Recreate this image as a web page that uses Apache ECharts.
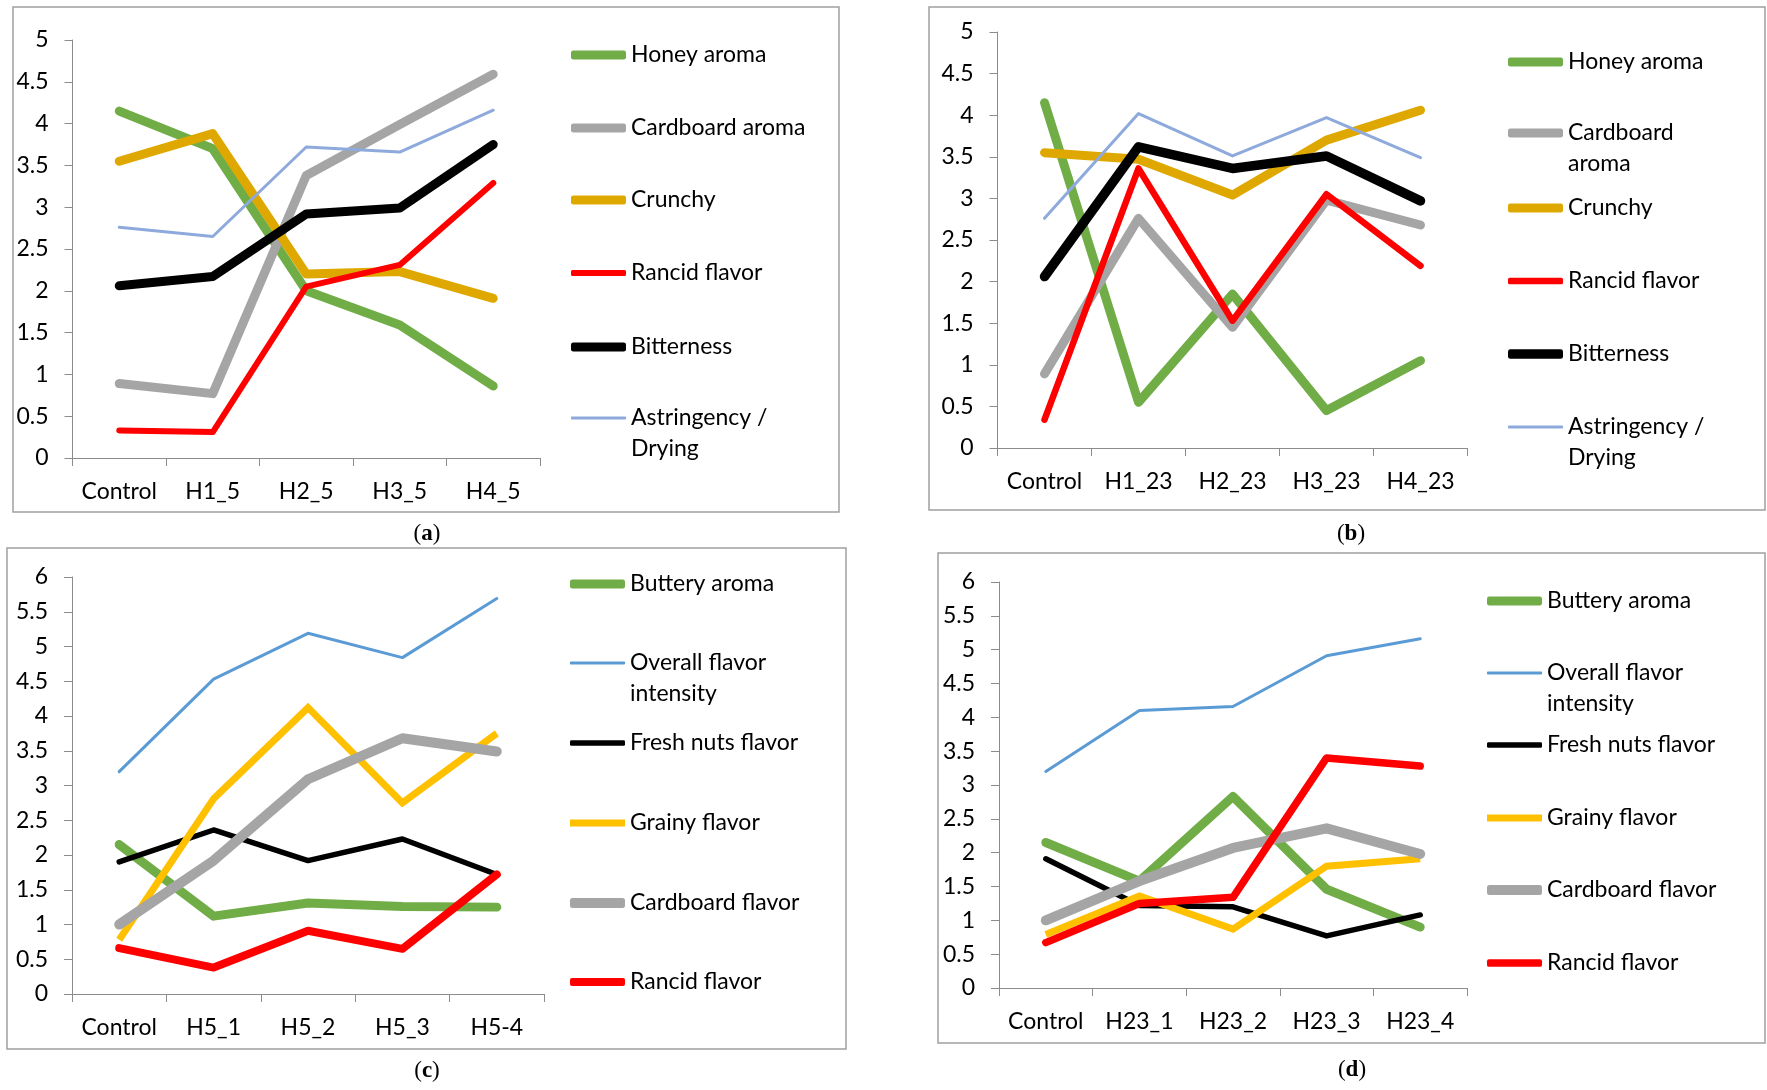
<!DOCTYPE html>
<html>
<head>
<meta charset="utf-8">
<script src="https://cdn.jsdelivr.net/npm/echarts@6/dist/echarts.min.js"></script>
<style>
html,body{margin:0;padding:0;background:#fff;}
#chart{width:1767px;height:1090px;}
</style>
</head>
<body>
<div id="chart"></div>
<script>
// ---------- categories ----------
const catsA = ['Control', 'H1_5', 'H2_5', 'H3_5', 'H4_5'];
const catsB = ['Control', 'H1_23', 'H2_23', 'H3_23', 'H4_23'];
const catsC = ['Control', 'H5_1', 'H5_2', 'H5_3', 'H5-4'];
const catsD = ['Control', 'H23_1', 'H23_2', 'H23_3', 'H23_4'];

// ---------- panel (a) ----------
const honeyA     = [4.15, 3.70, 2.00, 1.59, 0.86];
const cardboardA = [0.89, 0.77, 3.38, 3.99, 4.59];
const crunchyA   = [3.55, 3.88, 2.20, 2.23, 1.91];
const rancidA    = [0.33, 0.31, 2.05, 2.31, 3.29];
const bitterA    = [2.06, 2.17, 2.92, 2.99, 3.75];
const astrA      = [2.76, 2.65, 3.72, 3.66, 4.16];

// ---------- panel (b) ----------
const honeyB     = [4.15, 0.55, 1.85, 0.45, 1.05];
const cardboardB = [0.89, 2.76, 1.45, 2.98, 2.68];
const crunchyB   = [3.55, 3.47, 3.04, 3.70, 4.06];
const rancidB    = [0.34, 3.36, 1.53, 3.05, 2.19];
const bitterB    = [2.06, 3.62, 3.36, 3.51, 2.97];
const astrB      = [2.76, 4.02, 3.51, 3.97, 3.49];

// ---------- panel (c) ----------
const butteryC   = [2.15, 1.12, 1.31, 1.26, 1.25];
const overallC   = [3.20, 4.53, 5.19, 4.84, 5.69];
const freshC     = [1.90, 2.36, 1.92, 2.23, 1.72];
const grainyC    = [0.78, 2.81, 4.12, 2.75, 3.75];
const cardboardC = [1.00, 1.92, 3.09, 3.68, 3.49];
const rancidC    = [0.66, 0.38, 0.91, 0.65, 1.72];

// ---------- panel (d) ----------
const butteryD   = [2.15, 1.58, 2.83, 1.46, 0.90];
const overallD   = [3.20, 4.10, 4.16, 4.91, 5.16];
const freshD     = [1.91, 1.22, 1.20, 0.77, 1.08];
const grainyD    = [0.79, 1.36, 0.87, 1.80, 1.91];
const cardboardD = [1.00, 1.58, 2.07, 2.36, 1.98];
const rancidD    = [0.67, 1.25, 1.34, 3.40, 3.28];

const yMaxAB = 5, yMaxCD = 6, yStep = 0.5;
const captions = ['a', 'b', 'c', 'd'];

// ---------- styling ----------
const FONT = 'Lato';
const FS = 23;
const LH = 31;
const C = {
  green: '#70AD47', gray: '#A5A5A5', gold: '#DFA800', red: '#FF0000',
  black: '#000000', lav: '#8EA9DB', blue: '#5B9BD5', yellow: '#FFC000'
};

const panels = [
  { cats: catsA, yMax: yMaxAB,
    grid: { left: 72.5, top: 40, width: 467.5, height: 418 },
    box: [13, 7, 826, 505],
    legend: { x: 571, ys: [55, 128, 200, 273, 347, 418] },
    caption: [427, 534],
    series: [
      { name: 'Honey aroma', data: honeyA, color: C.green, w: 9 },
      { name: 'Cardboard aroma', data: cardboardA, color: C.gray, w: 9 },
      { name: 'Crunchy', data: crunchyA, color: C.gold, w: 9 },
      { name: 'Rancid flavor', data: rancidA, color: C.red, w: 6 },
      { name: 'Bitterness', data: bitterA, color: C.black, w: 9 },
      { name: 'Astringency / Drying', label: 'Astringency /\nDrying', data: astrA, color: C.lav, w: 3 }
    ] },
  { cats: catsB, yMax: yMaxAB,
    grid: { left: 997.5, top: 32, width: 470, height: 416 },
    box: [929, 7, 836, 503],
    legend: { x: 1508, ys: [62, 133, 208, 281, 354, 427] },
    caption: [1351, 534],
    series: [
      { name: 'Honey aroma', data: honeyB, color: C.green, w: 9 },
      { name: 'Cardboard aroma', label: 'Cardboard\naroma', data: cardboardB, color: C.gray, w: 9 },
      { name: 'Crunchy', data: crunchyB, color: C.gold, w: 9 },
      { name: 'Rancid flavor', data: rancidB, color: C.red, w: 6.5 },
      { name: 'Bitterness', data: bitterB, color: C.black, w: 9.5 },
      { name: 'Astringency / Drying', label: 'Astringency /\nDrying', data: astrB, color: C.lav, w: 3 }
    ] },
  { cats: catsC, yMax: yMaxCD,
    grid: { left: 72, top: 577, width: 472, height: 417 },
    box: [7, 548, 839, 501],
    legend: { x: 570, ys: [584, 663, 743, 823, 903, 982] },
    caption: [427, 1071],
    series: [
      { name: 'Buttery aroma', data: butteryC, color: C.green, w: 9 },
      { name: 'Overall flavor intensity', label: 'Overall flavor\nintensity', data: overallC, color: C.blue, w: 3 },
      { name: 'Fresh nuts flavor', data: freshC, color: C.black, w: 5.5 },
      { name: 'Grainy flavor', data: grainyC, color: C.yellow, w: 7, butt: true },
      { name: 'Cardboard flavor', data: cardboardC, color: C.gray, w: 10 },
      { name: 'Rancid flavor', data: rancidC, color: C.red, w: 8 }
    ] },
  { cats: catsD, yMax: yMaxCD,
    grid: { left: 999, top: 582, width: 468, height: 406 },
    box: [938, 553, 827, 490],
    legend: { x: 1487, ys: [601, 673, 745, 818, 890, 963] },
    caption: [1352, 1070],
    series: [
      { name: 'Buttery aroma', data: butteryD, color: C.green, w: 9 },
      { name: 'Overall flavor intensity', label: 'Overall flavor\nintensity', data: overallD, color: C.blue, w: 3 },
      { name: 'Fresh nuts flavor', data: freshD, color: C.black, w: 5.5 },
      { name: 'Grainy flavor', data: grainyD, color: C.yellow, w: 7, butt: true },
      { name: 'Cardboard flavor', data: cardboardD, color: C.gray, w: 10 },
      { name: 'Rancid flavor', data: rancidD, color: C.red, w: 7.5 }
    ] }
];

const grids = [], xAxes = [], yAxes = [], series = [], legends = [], graphics = [];
const axisColor = '#8C8C8C';

panels.forEach((p, i) => {
  grids.push(Object.assign({ containLabel: false }, p.grid));
  xAxes.push({
    type: 'category', gridIndex: i, data: p.cats, boundaryGap: true,
    axisLine: { show: true, lineStyle: { color: axisColor, width: 1 } },
    axisTick: { show: true, inside: false, length: 8, lineStyle: { color: axisColor } },
    axisLabel: { interval: 0, margin: 22, color: '#000', fontSize: FS, fontFamily: FONT },
    splitLine: { show: false }
  });
  yAxes.push({
    type: 'value', gridIndex: i, min: 0, max: p.yMax, interval: yStep,
    axisLine: { show: true, lineStyle: { color: axisColor, width: 1 } },
    axisTick: { show: true, inside: false, length: 8, lineStyle: { color: axisColor } },
    axisLabel: { margin: 24, color: '#000', fontSize: FS, fontFamily: FONT },
    splitLine: { show: false }
  });
  p.series.forEach((s, k) => {
    const sid = 'p' + i + '_' + k;
    series.push({
      id: sid, name: s.name, type: 'line', xAxisIndex: i, yAxisIndex: i,
      data: s.data, symbol: 'none', silent: true, animation: false,
      color: s.color,
      lineStyle: { color: s.color, width: s.w, cap: s.butt ? 'butt' : 'round', join: s.butt ? 'miter' : 'round' },
      emphasis: { disabled: true }
    });
    const wrapped = !!(s.label && s.label.indexOf('\n') >= 0);
    const yc = p.legend.ys[k];
    // wrapped entries: a blank leading line keeps the first text line level with the line sample
    const txt = wrapped ? ' \n' + s.label : (s.label || s.name);
    legends.push({
      show: true,
      left: p.legend.x,
      top: wrapped ? yc - 1.5 * LH : yc - LH / 2,
      padding: 0,
      orient: 'vertical',
      selectedMode: false,
      data: [{ name: s.name, icon: s.butt ? 'rect' : 'roundRect', itemStyle: { color: s.color } }],
      itemWidth: 55,
      itemHeight: s.w,
      formatter: txt,
      textStyle: { fontSize: FS, fontFamily: FONT, color: '#000', lineHeight: LH }
    });
  });
  graphics.push({
    type: 'rect', silent: true, z: -10,
    shape: { x: p.box[0], y: p.box[1], width: p.box[2], height: p.box[3] },
    style: { fill: 'none', stroke: '#A0A0A0', lineWidth: 1.5 }
  });
  graphics.push({
    type: 'text', silent: true,
    x: p.caption[0], y: p.caption[1],
    style: {
      text: '{p|(}{b|' + captions[i] + '}{p|)}',
      align: 'center', verticalAlign: 'middle',
      rich: {
        p: { fontFamily: 'Liberation Serif', fontSize: 23, fill: '#000', color: '#000' },
        b: { fontFamily: 'Liberation Serif', fontSize: 23, fontWeight: 'bold', fill: '#000', color: '#000' }
      }
    }
  });
});

const chart = echarts.init(document.getElementById('chart'), null, { renderer: 'canvas' });
chart.setOption({
  backgroundColor: '#ffffff',
  animation: false,
  grid: grids,
  xAxis: xAxes,
  yAxis: yAxes,
  legend: legends,
  series: series,
  graphic: graphics
});
</script>
</body>
</html>
